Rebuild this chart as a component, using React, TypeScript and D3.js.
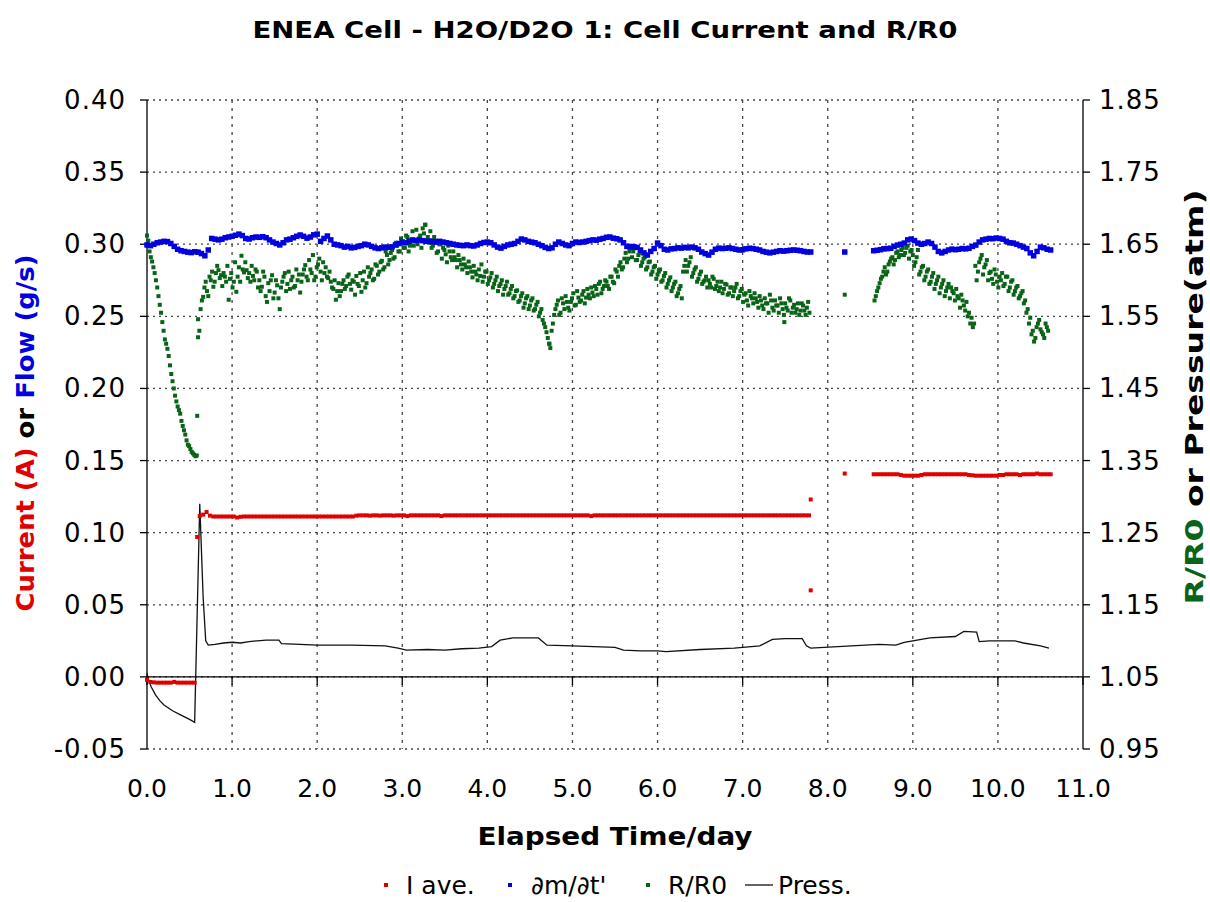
import React from 'react';
import * as d3 from 'd3';

// ---------------- data ----------------
const TITLE = 'ENEA Cell - H2O/D2O 1: Cell Current and R/R0';
const xTickValues = [0, 1, 2, 3, 4, 5, 6, 7, 8, 9, 10, 11];
const xTickLabels = ['0.0', '1.0', '2.0', '3.0', '4.0', '5.0', '6.0', '7.0', '8.0', '9.0', '10.0', '11.0'];
const leftTickValues = [-0.05, 0, 0.05, 0.1, 0.15, 0.2, 0.25, 0.3, 0.35, 0.4];
const leftTickLabels = ['-0.05', '0.00', '0.05', '0.10', '0.15', '0.20', '0.25', '0.30', '0.35', '0.40'];
const rightTickValues = [0.95, 1.05, 1.15, 1.25, 1.35, 1.45, 1.55, 1.65, 1.75, 1.85];
const rightTickLabels = ['0.95', '1.05', '1.15', '1.25', '1.35', '1.45', '1.55', '1.65', '1.75', '1.85'];

// I ave. (A) — sampled segments: start day, step day, values
const currentSeg1 = { start: 0.0, step: 0.04, values: [
  -0.0020, -0.0035, -0.0038, -0.0040, -0.0040, -0.0040, -0.0040, -0.0040, -0.0035, -0.0040,
  -0.0040, -0.0040, -0.0040, -0.0040, -0.0040,
] };
const currentSeg2 = { start: 0.62, step: 0.04, values: [
  0.1115, 0.1125, 0.1143, 0.1118, 0.1112, 0.1112, 0.1112, 0.1112, 0.1112, 0.1112,
  0.1112, 0.1105, 0.1110, 0.1112, 0.1112, 0.1112, 0.1112, 0.1112, 0.1112, 0.1112,
  0.1112, 0.1112, 0.1112, 0.1112, 0.1112, 0.1112, 0.1112, 0.1112, 0.1112, 0.1112,
  0.1112, 0.1112, 0.1112, 0.1112, 0.1112, 0.1112, 0.1112, 0.1112, 0.1112, 0.1112,
  0.1112, 0.1112, 0.1112, 0.1112, 0.1112, 0.1112, 0.1118, 0.1120, 0.1120, 0.1120,
  0.1118, 0.1120, 0.1120, 0.1118, 0.1120, 0.1120, 0.1120, 0.1118, 0.1120, 0.1120,
  0.1120, 0.1115, 0.1120, 0.1120, 0.1120, 0.1120, 0.1120, 0.1120, 0.1120, 0.1120,
  0.1120, 0.1115, 0.1120, 0.1120, 0.1120, 0.1120, 0.1120, 0.1120, 0.1120, 0.1120,
  0.1120, 0.1120, 0.1120, 0.1120, 0.1120, 0.1120, 0.1120, 0.1120, 0.1120, 0.1120,
  0.1120, 0.1120, 0.1120, 0.1120, 0.1120, 0.1120, 0.1120, 0.1120, 0.1120, 0.1120,
  0.1120, 0.1120, 0.1120, 0.1120, 0.1120, 0.1120, 0.1120, 0.1120, 0.1120, 0.1120,
  0.1120, 0.1120, 0.1120, 0.1120, 0.1120, 0.1115, 0.1120, 0.1120, 0.1120, 0.1120,
  0.1120, 0.1120, 0.1120, 0.1120, 0.1120, 0.1120, 0.1120, 0.1120, 0.1120, 0.1120,
  0.1120, 0.1120, 0.1120, 0.1120, 0.1120, 0.1120, 0.1120, 0.1120, 0.1120, 0.1120,
  0.1120, 0.1120, 0.1120, 0.1120, 0.1120, 0.1120, 0.1120, 0.1120, 0.1120, 0.1120,
  0.1120, 0.1120, 0.1120, 0.1120, 0.1120, 0.1120, 0.1120, 0.1120, 0.1120, 0.1120,
  0.1120, 0.1120, 0.1120, 0.1120, 0.1120, 0.1120, 0.1120, 0.1120, 0.1120, 0.1120,
  0.1120, 0.1120, 0.1120, 0.1120, 0.1120, 0.1120, 0.1120, 0.1120, 0.1120, 0.1120,
] };
const currentSeg3 = { start: 8.54, step: 0.04, values: [
  0.1405, 0.1405, 0.1405, 0.1405, 0.1405, 0.1405, 0.1405, 0.1405, 0.1400, 0.1395,
  0.1395, 0.1395, 0.1395, 0.1395, 0.1400, 0.1405, 0.1405, 0.1405, 0.1405, 0.1405,
  0.1405, 0.1405, 0.1405, 0.1405, 0.1405, 0.1405, 0.1405, 0.1405, 0.1400, 0.1398,
  0.1395, 0.1395, 0.1395, 0.1395, 0.1395, 0.1395, 0.1395, 0.1400, 0.1400, 0.1405,
  0.1405, 0.1405, 0.1405, 0.1400, 0.1405, 0.1405, 0.1405, 0.1405, 0.1410, 0.1405,
  0.1405, 0.1405, 0.1405,
] };
const currentExtraDays = [0.59, 7.80, 7.80, 8.20];
const currentExtraValues = [0.097, 0.123, 0.060, 0.141];

// dm/dt' (g/s)
const flowSeg1 = { start: 0.0, step: 0.04, values: [
  0.2995, 0.2990, 0.3000, 0.3010, 0.3015, 0.3020, 0.3018, 0.3005, 0.2985, 0.2965,
  0.2955, 0.2950, 0.2945, 0.2942, 0.2948, 0.2945, 0.2935, 0.2920, 0.2960, 0.3040,
  0.3035, 0.3030, 0.3035, 0.3045, 0.3050, 0.3055, 0.3062, 0.3070, 0.3060, 0.3040,
  0.3036, 0.3045, 0.3050, 0.3048, 0.3052, 0.3045, 0.3030, 0.3015, 0.3005, 0.2995,
  0.3010, 0.3030, 0.3035, 0.3045, 0.3055, 0.3064, 0.3055, 0.3042, 0.3050, 0.3065,
  0.3070, 0.3020, 0.3040, 0.3057, 0.3030, 0.3000, 0.2995, 0.2990, 0.2980, 0.2985,
  0.2975, 0.2978, 0.2985, 0.2990, 0.3000, 0.2995, 0.2985, 0.2975, 0.2970, 0.2975,
  0.2980, 0.2978, 0.2982, 0.2995, 0.3005, 0.3015, 0.3010, 0.3020, 0.3030, 0.3025,
  0.3030, 0.3025, 0.3020, 0.3022, 0.3018, 0.3015, 0.3020, 0.3015, 0.3010, 0.3005,
  0.3000, 0.2995, 0.2992, 0.2990, 0.2995, 0.2990, 0.2988, 0.2995, 0.3005, 0.3012,
  0.3015, 0.3010, 0.2995, 0.2980, 0.2973, 0.2985, 0.2995, 0.3000, 0.3005, 0.3020,
  0.3036, 0.3030, 0.3020, 0.3015, 0.3010, 0.3000, 0.2990, 0.2978, 0.2970, 0.2975,
  0.3000, 0.3015, 0.3005, 0.2995, 0.2990, 0.3005, 0.3015, 0.3012, 0.3015, 0.3020,
  0.3025, 0.3030, 0.3028, 0.3035, 0.3040, 0.3048, 0.3050, 0.3042, 0.3038, 0.3030,
  0.3010, 0.2985, 0.2980, 0.2982, 0.2978, 0.2960, 0.2940, 0.2925, 0.2950, 0.2970,
  0.3008, 0.2990, 0.2965, 0.2960, 0.2968, 0.2970, 0.2975, 0.2973, 0.2978, 0.2975,
  0.2980, 0.2975, 0.2965, 0.2946, 0.2935, 0.2925, 0.2945, 0.2965, 0.2973, 0.2970,
  0.2972, 0.2975, 0.2970, 0.2965, 0.2960, 0.2962, 0.2968, 0.2972, 0.2970, 0.2965,
  0.2960, 0.2950, 0.2945, 0.2940, 0.2945, 0.2950, 0.2955, 0.2952, 0.2955, 0.2958,
  0.2960, 0.2958, 0.2955, 0.2950, 0.2946, 0.2946,
] };
const flowSeg2 = { start: 8.54, step: 0.04, values: [
  0.2955, 0.2958, 0.2962, 0.2968, 0.2970, 0.2972, 0.2985, 0.2994, 0.3000, 0.3008,
  0.3030, 0.3036, 0.3025, 0.3008, 0.3000, 0.3005, 0.3015, 0.3005, 0.2980, 0.2950,
  0.2940, 0.2950, 0.2960, 0.2966, 0.2962, 0.2965, 0.2970, 0.2968, 0.2972, 0.2985,
  0.2994, 0.3015, 0.3030, 0.3035, 0.3040, 0.3038, 0.3043, 0.3040, 0.3035, 0.3020,
  0.3010, 0.3008, 0.3000, 0.2990, 0.2980, 0.2970, 0.2940, 0.2920, 0.2950, 0.2980,
  0.2975, 0.2965, 0.2960,
] };
const flowExtraDays = [8.20];
const flowExtraValues = [0.2946];

// R/R0 — two interleaved sample sets
const ratioSeg1 = { start: 0.0, step: 0.03, values: [
  1.662, 1.640, 1.626, 1.610, 1.590, 1.566, 1.542, 1.518, 1.505, 1.482,
  1.460, 1.440, 1.425, 1.415, 1.398, 1.386, 1.372, 1.366, 1.360, 1.356,
  1.546, 1.560, 1.577, 1.598, 1.578, 1.600, 1.591, 1.610, 1.614, 1.607,
  1.610, 1.598, 1.573, 1.610, 1.598, 1.584, 1.618, 1.634, 1.611, 1.614,
  1.610, 1.620, 1.600, 1.612, 1.600, 1.591, 1.605, 1.570, 1.585, 1.607,
  1.583, 1.593, 1.560, 1.598, 1.610, 1.595, 1.588, 1.605, 1.592, 1.600,
  1.583, 1.608, 1.621, 1.600, 1.615, 1.635, 1.605, 1.622, 1.612, 1.625,
  1.618, 1.603, 1.598, 1.588, 1.573, 1.596, 1.585, 1.600, 1.592, 1.608,
  1.587, 1.598, 1.606, 1.592, 1.584, 1.612, 1.596, 1.605, 1.615, 1.602,
  1.620, 1.612, 1.627, 1.618, 1.635, 1.628, 1.642, 1.632, 1.648, 1.640,
  1.652, 1.645, 1.660, 1.648, 1.668, 1.655, 1.650, 1.662, 1.672, 1.677,
  1.660, 1.668, 1.648, 1.655, 1.640, 1.650, 1.645, 1.636, 1.648, 1.632,
  1.640, 1.628, 1.635, 1.622, 1.630, 1.618, 1.626, 1.612, 1.620, 1.608,
  1.615, 1.622, 1.605, 1.612, 1.600, 1.610, 1.595, 1.605, 1.592, 1.600,
  1.588, 1.598, 1.582, 1.592, 1.578, 1.586, 1.572, 1.582, 1.568, 1.578,
  1.565, 1.575, 1.560, 1.570, 1.555, 1.545, 1.535, 1.520, 1.506, 1.540,
  1.560, 1.572, 1.555, 1.568, 1.578, 1.562, 1.570, 1.582, 1.566, 1.576,
  1.572, 1.585, 1.576, 1.580, 1.590, 1.578, 1.588, 1.595, 1.582, 1.592,
  1.598, 1.588, 1.605, 1.596, 1.612, 1.620, 1.615, 1.630, 1.625, 1.640,
  1.632, 1.645, 1.628, 1.638, 1.625, 1.632, 1.618, 1.626, 1.612, 1.620,
  1.608, 1.615, 1.600, 1.610, 1.595, 1.604, 1.590, 1.598, 1.582, 1.592,
  1.612, 1.628, 1.620, 1.632, 1.610, 1.618, 1.602, 1.612, 1.598, 1.605,
  1.600, 1.590, 1.602, 1.592, 1.585, 1.598, 1.588, 1.594, 1.582, 1.590,
  1.585, 1.595, 1.578, 1.588, 1.580, 1.572, 1.585, 1.575, 1.582, 1.570,
  1.578, 1.565, 1.575, 1.568, 1.580, 1.562, 1.572, 1.565, 1.575, 1.560,
  1.568, 1.558, 1.572, 1.562, 1.555, 1.568, 1.558, 1.565, 1.552, 1.570,
] };
const ratioSeg1b = { start: 0.015, step: 0.03, values: [
  1.655, 1.632, 1.618, 1.600, 1.578, 1.555, 1.530, 1.512, 1.495, 1.470,
  1.450, 1.432, 1.420, 1.405, 1.392, 1.378, 1.370, 1.362, 1.358, 1.357,
  1.530, 1.572, 1.590, 1.585, 1.605, 1.612, 1.598, 1.620, 1.603, 1.592,
  1.605, 1.620, 1.602, 1.590, 1.625, 1.605, 1.598, 1.615, 1.625, 1.603,
  1.598, 1.606, 1.615, 1.590, 1.585, 1.612, 1.578, 1.596, 1.600, 1.575,
  1.600, 1.575, 1.590, 1.605, 1.585, 1.612, 1.600, 1.590, 1.615, 1.608,
  1.598, 1.615, 1.605, 1.628, 1.610, 1.600, 1.618, 1.630, 1.600, 1.610,
  1.605, 1.612, 1.590, 1.600, 1.585, 1.578, 1.595, 1.588, 1.605, 1.595,
  1.600, 1.580, 1.595, 1.610, 1.600, 1.590, 1.618, 1.610, 1.600, 1.622,
  1.608, 1.625, 1.615, 1.640, 1.622, 1.638, 1.630, 1.652, 1.640, 1.658,
  1.645, 1.662, 1.640, 1.655, 1.648, 1.670, 1.658, 1.645, 1.665, 1.655,
  1.652, 1.645, 1.660, 1.638, 1.650, 1.630, 1.642, 1.625, 1.640, 1.628,
  1.632, 1.618, 1.628, 1.615, 1.622, 1.610, 1.618, 1.604, 1.612, 1.600,
  1.606, 1.598, 1.612, 1.595, 1.604, 1.590, 1.600, 1.585, 1.595, 1.580,
  1.592, 1.580, 1.588, 1.575, 1.585, 1.570, 1.578, 1.562, 1.575, 1.560,
  1.572, 1.558, 1.566, 1.550, 1.560, 1.540, 1.528, 1.512, 1.530, 1.552,
  1.566, 1.552, 1.575, 1.560, 1.570, 1.558, 1.575, 1.565, 1.585, 1.570,
  1.580, 1.568, 1.588, 1.575, 1.583, 1.592, 1.580, 1.598, 1.588, 1.600,
  1.592, 1.605, 1.598, 1.615, 1.605, 1.625, 1.618, 1.638, 1.630, 1.648,
  1.640, 1.628, 1.635, 1.620, 1.630, 1.615, 1.625, 1.608, 1.618, 1.602,
  1.612, 1.598, 1.606, 1.590, 1.600, 1.585, 1.595, 1.578, 1.588, 1.575,
  1.620, 1.612, 1.625, 1.605, 1.615, 1.598, 1.608, 1.595, 1.600, 1.590,
  1.595, 1.605, 1.588, 1.598, 1.590, 1.582, 1.595, 1.580, 1.590, 1.578,
  1.590, 1.575, 1.585, 1.570, 1.582, 1.565, 1.578, 1.568, 1.575, 1.562,
  1.572, 1.560, 1.568, 1.555, 1.572, 1.558, 1.565, 1.555, 1.568, 1.552,
  1.562, 1.575, 1.555, 1.566, 1.560, 1.552, 1.568, 1.558, 1.562, 1.555,
] };
const ratioSeg2 = { start: 8.55, step: 0.03, values: [
  1.572, 1.585, 1.596, 1.605, 1.618, 1.612, 1.626, 1.632, 1.628, 1.640,
  1.635, 1.645, 1.638, 1.648, 1.640, 1.635, 1.625, 1.642, 1.612, 1.620,
  1.605, 1.615, 1.598, 1.610, 1.595, 1.605, 1.590, 1.600, 1.585, 1.595,
  1.590, 1.582, 1.588, 1.575, 1.580, 1.565, 1.570, 1.555, 1.548, 1.540,
  1.600, 1.625, 1.635, 1.618, 1.628, 1.610, 1.602, 1.615, 1.598, 1.605,
  1.610, 1.595, 1.605, 1.590, 1.600, 1.585, 1.592, 1.578, 1.585, 1.572,
  1.560, 1.548, 1.530, 1.520, 1.540, 1.532, 1.525, 1.540, 1.530,
] };
const ratioSeg2b = { start: 8.565, step: 0.03, values: [
  1.578, 1.590, 1.602, 1.612, 1.608, 1.622, 1.630, 1.622, 1.638, 1.632,
  1.642, 1.635, 1.645, 1.630, 1.642, 1.620, 1.632, 1.608, 1.618, 1.600,
  1.612, 1.595, 1.605, 1.588, 1.600, 1.582, 1.595, 1.578, 1.590, 1.575,
  1.585, 1.572, 1.578, 1.562, 1.572, 1.558, 1.550, 1.540, 1.535, 1.620,
  1.612, 1.630, 1.608, 1.622, 1.600, 1.612, 1.595, 1.608, 1.590, 1.600,
  1.592, 1.605, 1.585, 1.598, 1.580, 1.590, 1.575, 1.582, 1.568, 1.555,
  1.540, 1.525, 1.515, 1.535, 1.545, 1.528, 1.520, 1.535,
] };
const ratioExtraDays = [0.59, 0.60, 3.27, 4.73, 7.49, 8.20];
const ratioExtraValues = [1.412, 1.521, 1.677, 1.512, 1.542, 1.580];

// Pressure (atm)
const pressDays = [
  0.00, 0.02, 0.05, 0.10, 0.15, 0.20, 0.30, 0.40, 0.50, 0.56, 0.62, 0.66, 0.69, 0.72, 0.80,
  0.90, 1.00, 1.10, 1.20, 1.40, 1.55, 1.58, 1.80, 2.00, 2.40, 2.80, 2.95, 3.05, 3.30, 3.50,
  3.70, 3.90, 4.05, 4.15, 4.30, 4.60, 4.70, 5.00, 5.50, 5.60, 5.80, 6.00, 6.10, 6.50, 6.90,
  7.20, 7.35, 7.50, 7.70, 7.75, 7.80, 8.60, 8.80, 8.90, 9.00, 9.20, 9.50, 9.60, 9.75, 9.78,
  9.90, 10.20, 10.30, 10.50, 10.60,
];
const pressValues = [
  1.055, 1.045, 1.036, 1.025, 1.017, 1.011, 1.003, 0.997, 0.991, 0.987, 1.290, 1.160, 1.100, 1.094, 1.095,
  1.097, 1.098, 1.097, 1.099, 1.101, 1.101, 1.096, 1.095, 1.094, 1.094, 1.093, 1.090, 1.087, 1.088, 1.087,
  1.089, 1.090, 1.092, 1.101, 1.104, 1.104, 1.094, 1.093, 1.091, 1.087, 1.086, 1.086, 1.085, 1.088, 1.090,
  1.093, 1.102, 1.103, 1.103, 1.093, 1.090, 1.095, 1.094, 1.098, 1.100, 1.104, 1.106, 1.113, 1.112, 1.099,
  1.100, 1.100, 1.097, 1.093, 1.090,
];

// ---------------- helpers ----------------
type Seg = { start: number; step: number; values: number[] };
const segPoints = (s: Seg) => s.values.map((v, i) => [s.start + i * s.step, v] as [number, number]);
const extraPoints = (d: number[], v: number[]) => d.map((x, i) => [x, v[i]] as [number, number]);

const FONT = '"DejaVu Sans", Verdana, sans-serif';
const RED = '#e00000';
const BLUE = '#0000e0';
const GREEN = '#0a6418';

export default function App() {
  const left = 147, right = 1083, top = 100, bottom = 749;
  const x = d3.scaleLinear().domain([0, 11]).range([left, right]);
  const yL = d3.scaleLinear().domain([-0.05, 0.4]).range([bottom, top]);
  const yR = d3.scaleLinear().domain([0.95, 1.85]).range([bottom, top]);

  const current = [...segPoints(currentSeg1), ...segPoints(currentSeg2), ...segPoints(currentSeg3), ...extraPoints(currentExtraDays, currentExtraValues)];
  const flow = [...segPoints(flowSeg1), ...segPoints(flowSeg2), ...extraPoints(flowExtraDays, flowExtraValues)];
  const ratio = [...segPoints(ratioSeg1), ...segPoints(ratioSeg1b), ...segPoints(ratioSeg2), ...segPoints(ratioSeg2b), ...extraPoints(ratioExtraDays, ratioExtraValues)];
  const press = pressDays.map((d, i) => [d, pressValues[i]] as [number, number]);

  const pressLine = d3.line<[number, number]>().x(d => x(d[0])).y(d => yR(d[1]))(press) || '';
  const y0 = yL(0);

  return (
    <svg width={1210} height={902} style={{ position: 'absolute', left: 0, top: 0, background: '#fff' }} fontFamily={FONT}>
      <rect x={0} y={0} width={1210} height={902} fill="#fff" />
      <text x={605} y={38} textAnchor="middle" fontSize={23} fontWeight="bold" fill="#000" textLength={705} lengthAdjust="spacingAndGlyphs">{TITLE}</text>

      {/* grid */}
      {leftTickValues.map((v, i) => (
        <line key={'hg' + i} x1={left} x2={right} y1={yL(v)} y2={yL(v)} stroke="#444" strokeWidth={1.3} strokeDasharray="2,4" />
      ))}
      {xTickValues.slice(1, -1).map((v, i) => (
        <line key={'vg' + i} x1={x(v)} x2={x(v)} y1={top} y2={bottom} stroke="#444" strokeWidth={1.3} strokeDasharray="3,5" />
      ))}

      {/* axes */}
      <line x1={left} x2={left} y1={top} y2={bottom} stroke="#000" strokeWidth={1.3} />
      <line x1={right} x2={right} y1={top} y2={bottom} stroke="#000" strokeWidth={1.3} />
      <line x1={left} x2={right} y1={y0} y2={y0} stroke="#000" strokeWidth={1.3} />
      {xTickValues.map((v, i) => (
        <line key={'xt' + i} x1={x(v)} x2={x(v)} y1={y0} y2={y0 + 8} stroke="#000" strokeWidth={1.3} />
      ))}
      {leftTickValues.map((v, i) => (
        <g key={'lt' + i}>
          <line x1={left - 7} x2={left} y1={yL(v)} y2={yL(v)} stroke="#000" strokeWidth={1.3} />
          <text x={left - 21} y={yL(v) + 9} textAnchor="end" fontSize={26} letterSpacing={1} fill="#000">{leftTickLabels[i]}</text>
        </g>
      ))}
      {rightTickValues.map((v, i) => (
        <g key={'rt' + i}>
          <line x1={right} x2={right + 7} y1={yR(v)} y2={yR(v)} stroke="#000" strokeWidth={1.3} />
          <text x={right + 16} y={yR(v) + 9} textAnchor="start" fontSize={26} letterSpacing={1} fill="#000">{rightTickLabels[i]}</text>
        </g>
      ))}
      {xTickValues.map((v, i) => (
        <text key={'xl' + i} x={x(v)} y={797} textAnchor="middle" fontSize={25} fill="#000">{xTickLabels[i]}</text>
      ))}

      {/* data */}
      <path d={pressLine} fill="none" stroke="#111" strokeWidth={1.3} />
      {ratio.map((d, i) => (
        <rect key={'g' + i} x={x(d[0]) - 2} y={yR(d[1]) - 2} width={4} height={4} fill={GREEN} />
      ))}
      {flow.map((d, i) => (
        <rect key={'b' + i} x={x(d[0]) - 2.75} y={yL(d[1]) - 2.75} width={5.5} height={5.5} fill={BLUE} />
      ))}
      {current.map((d, i) => (
        <rect key={'r' + i} x={x(d[0]) - 2} y={yL(d[1]) - 2} width={4} height={4} fill={RED} />
      ))}

      {/* axis titles */}
      <text x={615} y={845} textAnchor="middle" fontSize={25} fontWeight="bold" fill="#000" textLength={275} lengthAdjust="spacingAndGlyphs">Elapsed Time/day</text>
      <text transform="translate(34,433) rotate(-90)" textAnchor="middle" fontSize={25} fontWeight="bold" textLength={357} lengthAdjust="spacingAndGlyphs">
        <tspan fill={RED}>Current (A)</tspan>
        <tspan fill="#000"> or </tspan>
        <tspan fill={BLUE}>Flow (g/s)</tspan>
      </text>
      <text transform="translate(1203,397) rotate(-90)" textAnchor="middle" fontSize={25} fontWeight="bold" textLength={415} lengthAdjust="spacingAndGlyphs">
        <tspan fill={GREEN}>R/R0</tspan>
        <tspan fill="#000"> or Pressure(atm)</tspan>
      </text>

      {/* legend */}
      <g fontSize={25} fill="#000">
        <rect x={384} y={883} width={4} height={4} fill={RED} />
        <text x={406} y={894}>I ave.</text>
        <rect x={508} y={883} width={4} height={4} fill={BLUE} />
        <text x={531} y={894}>∂m/∂t'</text>
        <rect x={646} y={883} width={4} height={4} fill={GREEN} />
        <text x={668} y={894}>R/R0</text>
        <line x1={745} x2={773} y1={885} y2={885} stroke="#111" strokeWidth={1.3} />
        <text x={778} y={894}>Press.</text>
      </g>
    </svg>
  );
}
